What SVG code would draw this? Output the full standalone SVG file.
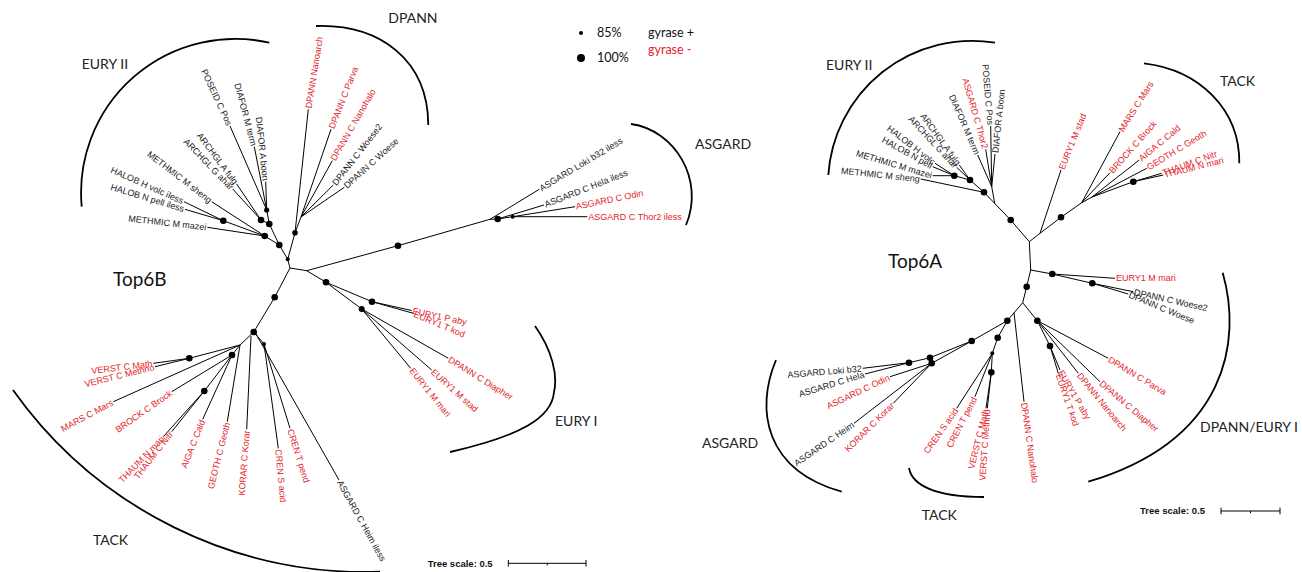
<svg xmlns="http://www.w3.org/2000/svg" width="1302" height="572" viewBox="0 0 1302 572">
<style>
.br{fill:none;stroke:#000;stroke-width:1}
.arc{fill:none;stroke:#000;stroke-width:1.8}
.lf{font-family:"Liberation Sans",Arial,sans-serif;font-size:9px;fill:#222}
.grp{font-family:Lato,"Liberation Sans",sans-serif;font-size:14px;fill:#222}
.big{font-family:Lato,"Liberation Sans",sans-serif;font-size:19px;fill:#111}
.scl{font-family:"Liberation Sans",Arial,sans-serif;font-size:9.5px;font-weight:bold;fill:#111}
.leg{font-family:Lato,"Liberation Sans",sans-serif;font-size:12.5px;fill:#111}
.r{fill:#e3232b}
.e{text-anchor:end}
</style>

<g id="connectors">
<!-- LEFT TREE (Top6B) -->
<path class="br" d="M290,268 L287.7,259.3 M287.7,259.3 L279.3,245 M287.7,259.3 L295,232.7 M290,268 L306.7,270.7 M290,268 L274.7,297.3 L253.7,332"/>
<path class="br" d="M279.3,245 L264.7,236 M279.3,245 L269.3,224 M264.7,236 L207.3,227.3 M264.7,236 L223.3,220.7 M223.3,220.7 L184,201.7 M223.3,220.7 L185,209.3 M264.7,236 L211.7,201.7 M269.3,224 L261,220 M261,220 L236.7,184 M261,220 L232.7,189 M269.3,224 L266.7,210 M266.7,210 L265.7,181.7 M266.7,210 L254.3,146.7 M266.7,210 L230,126"/>
<path class="br" d="M295,232.7 L308.3,109.3 M295,232.7 L301,217 M301,217 L331,129.3 M301,217 L332.3,160.7 M301,217 L333.3,185 M301,217 L344.3,187.3"/>
<path class="br" d="M306.7,270.7 L398,245.7 L490,219.3 M490,219.3 L539.3,189.3 M490,219.3 L497.7,219 L512.7,216.7 L587.3,216.7 M497.7,219 L544,205 M512.7,216.7 L575,206.7"/>
<path class="br" d="M306.7,270.7 L326,282.3 M326,282.3 L372,301.7 M326,282.3 L361.7,309 M372,301.7 L411.7,310.5 M372,301.7 L413.3,313.3 M361.7,309 L448.3,358.3 M361.7,309 L431.7,370 M361.7,309 L410.7,368.3"/>
<path class="br" d="M253.7,332 L240,345 M240,345 L189.3,358.3 M189.3,358.3 L153.3,363.3 M189.3,358.3 L155,366.7 M240,345 L113.3,401.7 M240,345 L232,355 M232,355 L171.7,391.7 M232,355 L204.3,391 M204.3,391 L163.3,436.7 M204.3,391 L171.7,431.7 M232,355 L202.7,419.3 M240,345 L227.3,421.7 M251,336 L246.7,429.3 M253.7,332 L264,344 M264,344 L278.3,448.3 M264,344 L290,428.3 M256,334 L339,480"/>
<!-- RIGHT TREE (Top6A) -->
<path class="br" d="M1029.3,241.7 L1010.7,220 L984,192.3 L970,180 L954.3,175.7 M994.7,203.4 L991.7,186.7 M991.7,186.7 L990.7,126 M991.7,186.7 L995,154 M991.7,186.7 L985.7,149.3 M991.7,186.7 L977.7,155 M984,192.3 L920.7,179 M970,180 L959.3,165 M970,180 L956.7,167.3 M954.3,175.7 L935,163.3 M954.3,175.7 L932.7,166.7 M954.3,175.7 L932.7,175.7"/>
<path class="br" d="M1029.3,241.7 L1040,233.3 L1061,170 M1040,233.3 L1061,217.3 L1081.7,202.7 M1081.7,202.7 L1120,131.7 M1081.7,202.7 L1110,172.7 M1081.7,202.7 L1092,197 M1092,197 L1139.3,160 M1092,197 L1146.7,168.3 M1092,197 L1133.3,181.7 M1133.3,181.7 L1161.7,173.3 M1133.3,181.7 L1163.3,175"/>
<path class="br" d="M1029.3,241.7 L1030.7,270 M1030.7,270 L1052.3,274 L1115,278.3 M1052.3,274 L1092.3,283.3 M1092.3,283.3 L1133.3,291.7 M1092.3,283.3 L1128.3,294 M1030.7,270 L1026.7,286.7 L1022.7,302.7 M1022.7,302.7 L1007.3,320.7 M1022.7,302.7 L1037.3,320.7 M1014,312.5 L1024,401.7 M1037.3,320.7 L1108.3,358.3 M1037.3,320.7 L1100,381.7 M1037.3,320.7 L1078.3,373.3 M1037.3,320.7 L1050,346 M1050,346 L1060,370 M1050,346 L1058.3,373.3"/>
<path class="br" d="M1007.3,320.7 L997.7,337.7 L992.3,353.3 L991.3,372.3 M992.3,353.3 L956.7,408.3 M992.3,353.3 L975,396.7 M991.3,372.3 L986,408.3 M991.3,372.3 L987.3,408.3 M1007.3,320.7 L971.7,341 L930,357.7 L909,362.7 M909,362.7 L862.7,368.3 M909,362.7 L865,374 M971.7,341 L931.7,363.3 M931.7,363.3 L890,376.7 M931.7,363.3 L854,423.3 M931.7,363.3 L893.3,403.3"/>
</g>

<g id="support-dots">
<circle cx="279.3" cy="245" r="3.3"/><circle cx="264.7" cy="236" r="3.3"/><circle cx="223.3" cy="220.7" r="3.3"/><circle cx="269.3" cy="224" r="3.3"/><circle cx="261" cy="220" r="3.3"/><circle cx="266.7" cy="210" r="2.6"/><circle cx="295" cy="232.7" r="2.8"/><circle cx="287.7" cy="259.3" r="2"/>
<circle cx="274.7" cy="297.3" r="3.3"/><circle cx="253.7" cy="332" r="3.3"/><circle cx="398" cy="245.7" r="3.3"/><circle cx="497.7" cy="219" r="3.3"/><circle cx="512.7" cy="216.7" r="2"/>
<circle cx="326" cy="282.3" r="3.3"/><circle cx="372" cy="301.7" r="3.3"/><circle cx="361.7" cy="309" r="3"/>
<circle cx="189.3" cy="358.3" r="3.3"/><circle cx="232" cy="355" r="3.3"/><circle cx="204.3" cy="391" r="3.3"/><circle cx="264" cy="344" r="2"/>
<circle cx="954.3" cy="175.7" r="3.3"/><circle cx="970" cy="180" r="3.3"/><circle cx="984" cy="192.3" r="3.3"/><circle cx="1010.7" cy="220" r="3.3"/>
<circle cx="1061" cy="217.3" r="3.3"/><circle cx="1133.3" cy="181.7" r="3.3"/>
<circle cx="1052.3" cy="274" r="3.3"/><circle cx="1092.3" cy="283.3" r="3.3"/><circle cx="1026.7" cy="286.7" r="3.3"/><circle cx="1007.3" cy="320.7" r="3.3"/><circle cx="1037.3" cy="320.7" r="3.3"/><circle cx="1050" cy="346" r="3.3"/>
<circle cx="997.7" cy="337.7" r="3.3"/><circle cx="992.3" cy="353.3" r="2"/><circle cx="991.3" cy="372.3" r="3.3"/>
<circle cx="971.7" cy="341" r="3.3"/><circle cx="930" cy="357.7" r="3.3"/><circle cx="931.7" cy="363.3" r="3.3"/><circle cx="909" cy="362.7" r="3.3"/>
</g>

<g id="clade-arcs">
<path class="arc" d="M269.3,42.7 A154,154 0 0 0 81.7,206.7"/>
<path class="arc" d="M316,26 C380,24 428,60 428.3,125"/>
<path class="arc" d="M631,124 C675,130 705,180 686,225"/>
<path class="arc" d="M535,326 C552,350 558,375 554,392 C552,418 520,436 450,452"/>
<path class="arc" d="M13,390 A432,432 0 0 0 380,571.7"/>
<path class="arc" d="M995,42.7 A144,144 0 0 0 828.3,175"/>
<path class="arc" d="M1144,63.3 C1200,70 1240,110 1239.3,163.3"/>
<path class="arc" d="M1222.7,272.7 C1242,340 1228,440 1088.3,481.7"/>
<path class="arc" d="M776,360 C755,410 765,470 841.7,491.7"/>
<path class="arc" d="M909,468 C912,485 935,497 984,497"/>
</g>

<g id="clade-labels">
<text class="grp" x="81.7" y="69">EURY II</text>
<text class="grp" x="388.3" y="23">DPANN</text>
<text class="grp" x="695" y="149">ASGARD</text>
<text class="grp" x="555" y="426">EURY I</text>
<text class="grp" x="93" y="545">TACK</text>
<text class="big" x="113" y="286">Top6B</text>
<text class="grp" x="826" y="70">EURY II</text>
<text class="grp" x="1220" y="86">TACK</text>
<text class="grp" x="1200" y="432">DPANN/EURY I</text>
<text class="grp" x="702" y="448">ASGARD</text>
<text class="grp" x="921.7" y="520">TACK</text>
<text class="big" x="888" y="268">Top6A</text>
</g>

<g id="legend">
<circle cx="581" cy="33" r="2"/>
<text class="leg" x="597" y="37">85%</text>
<circle cx="581" cy="58" r="4"/>
<text class="leg" x="597" y="62">100%</text>
<text class="leg" x="648" y="37">gyrase +</text>
<text class="leg r" x="648" y="54">gyrase -</text>
</g>

<g id="scale-bars">
<text class="scl" x="427.7" y="566.5">Tree scale: 0.5</text>
<path class="br" d="M508.3,563.3 H586 M508.3,560 V566.6 M586,560 V566.6 M547.2,563.3 V565.5"/>
<text class="scl" x="1140" y="514.3">Tree scale: 0.5</text>
<path class="br" d="M1221,511 H1280 M1221,507.7 V514.3 M1280,507.7 V514.3 M1250.5,511 V513.2"/>
</g>

<g id="leaves-left">
<text class="lf e" transform="translate(230,126) rotate(65)" x="-1" dy="0.35em">POSEID C Pos</text>
<text class="lf e" transform="translate(254.3,146.7) rotate(75)" x="-1" dy="0.35em">DIAFOR M term</text>
<text class="lf e" transform="translate(265.7,181.7) rotate(84)" x="-1" dy="0.35em">DIAFOR A boon</text>
<text class="lf e" transform="translate(236.7,184) rotate(53)" x="-1" dy="0.35em">ARCHGL A fulg</text>
<text class="lf e" transform="translate(232.7,189) rotate(46)" x="-1" dy="0.35em">ARCHGL G ahar</text>
<text class="lf e" transform="translate(211.7,201.7) rotate(37.6)" x="-1" dy="0.35em">METHMIC M sheng</text>
<text class="lf e" transform="translate(184,201.7) rotate(24)" x="-1" dy="0.35em">HALOB H volc iless</text>
<text class="lf e" transform="translate(185,209.3) rotate(17)" x="-1" dy="0.35em">HALOB N pell iless</text>
<text class="lf e" transform="translate(207.3,227.3) rotate(6.5)" x="-1" dy="0.35em">METHMIC M mazei</text>
<text class="lf r" transform="translate(308.3,109.3) rotate(-81)" x="1" dy="0.35em">DPANN Nanoarch</text>
<text class="lf r" transform="translate(331,129.3) rotate(-68.5)" x="1" dy="0.35em">DPANN C Parva</text>
<text class="lf r" transform="translate(332.3,160.7) rotate(-60)" x="1" dy="0.35em">DPANN C Nanohalo</text>
<text class="lf" transform="translate(333.3,185) rotate(-52)" x="1" dy="0.35em">DPANN C Woese2</text>
<text class="lf" transform="translate(344.3,187.3) rotate(-42)" x="1" dy="0.35em">DPANN C Woese</text>
<text class="lf" transform="translate(539.3,189.3) rotate(-31)" x="1" dy="0.35em">ASGARD Loki b32 iless</text>
<text class="lf" transform="translate(544,205) rotate(-21.6)" x="1" dy="0.35em">ASGARD C Hela iless</text>
<text class="lf r" transform="translate(575,206.7) rotate(-11.6)" x="1" dy="0.35em">ASGARD C Odin</text>
<text class="lf r" transform="translate(587.3,216.7)" x="1" dy="0.35em">ASGARD C Thor2 iless</text>
<text class="lf r" transform="translate(411.7,310.5) rotate(12)" x="1" dy="0.35em">EURY1 P aby</text>
<text class="lf r" transform="translate(413.3,313.3) rotate(22.7)" x="1" dy="0.35em">EURY1 T kod</text>
<text class="lf r" transform="translate(448.3,358.3) rotate(31.6)" x="1" dy="0.35em">DPANN C Diapher</text>
<text class="lf r" transform="translate(431.7,370) rotate(41.8)" x="1" dy="0.35em">EURY1 M stad</text>
<text class="lf r" transform="translate(410.7,368.3) rotate(51)" x="1" dy="0.35em">EURY1 M mari</text>
<text class="lf r e" transform="translate(153.3,363.3) rotate(-7)" x="-1" dy="0.35em">VERST C Math</text>
<text class="lf r e" transform="translate(155,366.7) rotate(-14)" x="-1" dy="0.35em">VERST C Methno</text>
<text class="lf r e" transform="translate(113.3,401.7) rotate(-28)" x="-1" dy="0.35em">MARS C Mars</text>
<text class="lf r e" transform="translate(171.7,391.7) rotate(-35)" x="-1" dy="0.35em">BROCK C Brock</text>
<text class="lf r e" transform="translate(163.3,436.7) rotate(-46)" x="-1" dy="0.35em">THAUM N mari</text>
<text class="lf r e" transform="translate(171.7,431.7) rotate(-52)" x="-1" dy="0.35em">THAUM C Nitr</text>
<text class="lf r e" transform="translate(202.7,419.3) rotate(-68.5)" x="-1" dy="0.35em">AIGA C Cald</text>
<text class="lf r e" transform="translate(227.3,421.7) rotate(-76)" x="-1" dy="0.35em">GEOTH C Geoth</text>
<text class="lf r e" transform="translate(246.7,429.3) rotate(-85.5)" x="-1" dy="0.35em">KORAR C Korar</text>
<text class="lf r" transform="translate(278.3,448.3) rotate(84.5)" x="1" dy="0.35em">CREN S acid</text>
<text class="lf r" transform="translate(290,428.3) rotate(72.6)" x="1" dy="0.35em">CREN T pend</text>
<text class="lf" transform="translate(339,480) rotate(61)" x="1" dy="0.35em">ASGARD C Heim iless</text>
</g>

<g id="leaves-right">
<text class="lf e" transform="translate(990.7,126) rotate(85)" x="-1" dy="0.35em">POSEID C Pos</text>
<text class="lf" transform="translate(995,154) rotate(-84)" x="1" dy="0.35em">DIAFOR A boon</text>
<text class="lf r e" transform="translate(985.7,149.3) rotate(74)" x="-1" dy="0.35em">ASGARD C Thor2</text>
<text class="lf e" transform="translate(977.7,155) rotate(66.6)" x="-1" dy="0.35em">DIAFOR M term</text>
<text class="lf e" transform="translate(959.3,165) rotate(54)" x="-1" dy="0.35em">ARCHGL A fulg</text>
<text class="lf e" transform="translate(956.7,167.3) rotate(47)" x="-1" dy="0.35em">ARCHGL G ahar</text>
<text class="lf e" transform="translate(935,163.3) rotate(37.7)" x="-1" dy="0.35em">HALOB H volc</text>
<text class="lf e" transform="translate(932.7,166.7) rotate(29)" x="-1" dy="0.35em">HALOB N pell</text>
<text class="lf e" transform="translate(932.7,175.7) rotate(16.6)" x="-1" dy="0.35em">METHMIC M mazei</text>
<text class="lf e" transform="translate(920.7,179) rotate(6)" x="-1" dy="0.35em">METHMIC M sheng</text>
<text class="lf r" transform="translate(1061,170) rotate(-68)" x="1" dy="0.35em">EURY1 M stad</text>
<text class="lf r" transform="translate(1120,131.7) rotate(-57.7)" x="1" dy="0.35em">MARS C Mars</text>
<text class="lf r" transform="translate(1110,172.7) rotate(-48.5)" x="1" dy="0.35em">BROCK C Brock</text>
<text class="lf r" transform="translate(1139.3,160) rotate(-40)" x="1" dy="0.35em">AIGA C Cald</text>
<text class="lf r" transform="translate(1146.7,168.3) rotate(-31.4)" x="1" dy="0.35em">GEOTH C Geoth</text>
<text class="lf r" transform="translate(1161.7,173.3) rotate(-20)" x="1" dy="0.35em">THAUM C Nitr</text>
<text class="lf r" transform="translate(1163.3,175) rotate(-14)" x="1" dy="0.35em">THAUM N mari</text>
<text class="lf r" transform="translate(1115,278.3)" x="1" dy="0.35em">EURY1 M mari</text>
<text class="lf" transform="translate(1133.3,291.7) rotate(12.5)" x="1" dy="0.35em">DPANN C Woese2</text>
<text class="lf" transform="translate(1128.3,294) rotate(22.3)" x="1" dy="0.35em">DPANN C Woese</text>
<text class="lf r" transform="translate(1108.3,358.3) rotate(31)" x="1" dy="0.35em">DPANN C Parva</text>
<text class="lf r" transform="translate(1100,381.7) rotate(40)" x="1" dy="0.35em">DPANN C Diapher</text>
<text class="lf r" transform="translate(1078.3,373.3) rotate(50.5)" x="1" dy="0.35em">DPANN Nanoarch</text>
<text class="lf r" transform="translate(1060,370) rotate(59.6)" x="1" dy="0.35em">EURY1 P aby</text>
<text class="lf r" transform="translate(1058.3,373.3) rotate(71)" x="1" dy="0.35em">EURY1 T kod</text>
<text class="lf r" transform="translate(1024,401.7) rotate(82)" x="1" dy="0.35em">DPANN C Nanohalo</text>
<text class="lf e" transform="translate(862.7,368.3) rotate(-5)" x="-1" dy="0.35em">ASGARD Loki b32</text>
<text class="lf e" transform="translate(865,374) rotate(-17)" x="-1" dy="0.35em">ASGARD C Hela</text>
<text class="lf r e" transform="translate(890,376.7) rotate(-25.3)" x="-1" dy="0.35em">ASGARD C Odin</text>
<text class="lf e" transform="translate(854,423.3) rotate(-34.5)" x="-1" dy="0.35em">ASGARD C Heim</text>
<text class="lf r e" transform="translate(893.3,403.3) rotate(-45)" x="-1" dy="0.35em">KORAR C Korar</text>
<text class="lf r e" transform="translate(956.7,408.3) rotate(-55)" x="-1" dy="0.35em">CREN S acid</text>
<text class="lf r e" transform="translate(975,396.7) rotate(-62.6)" x="-1" dy="0.35em">CREN T pend</text>
<text class="lf r e" transform="translate(986,408.3) rotate(-76)" x="-1" dy="0.35em">VERST C Math</text>
<text class="lf r e" transform="translate(987.3,408.3) rotate(-86)" x="-1" dy="0.35em">VERST C Methno</text>
</g>
</svg>
